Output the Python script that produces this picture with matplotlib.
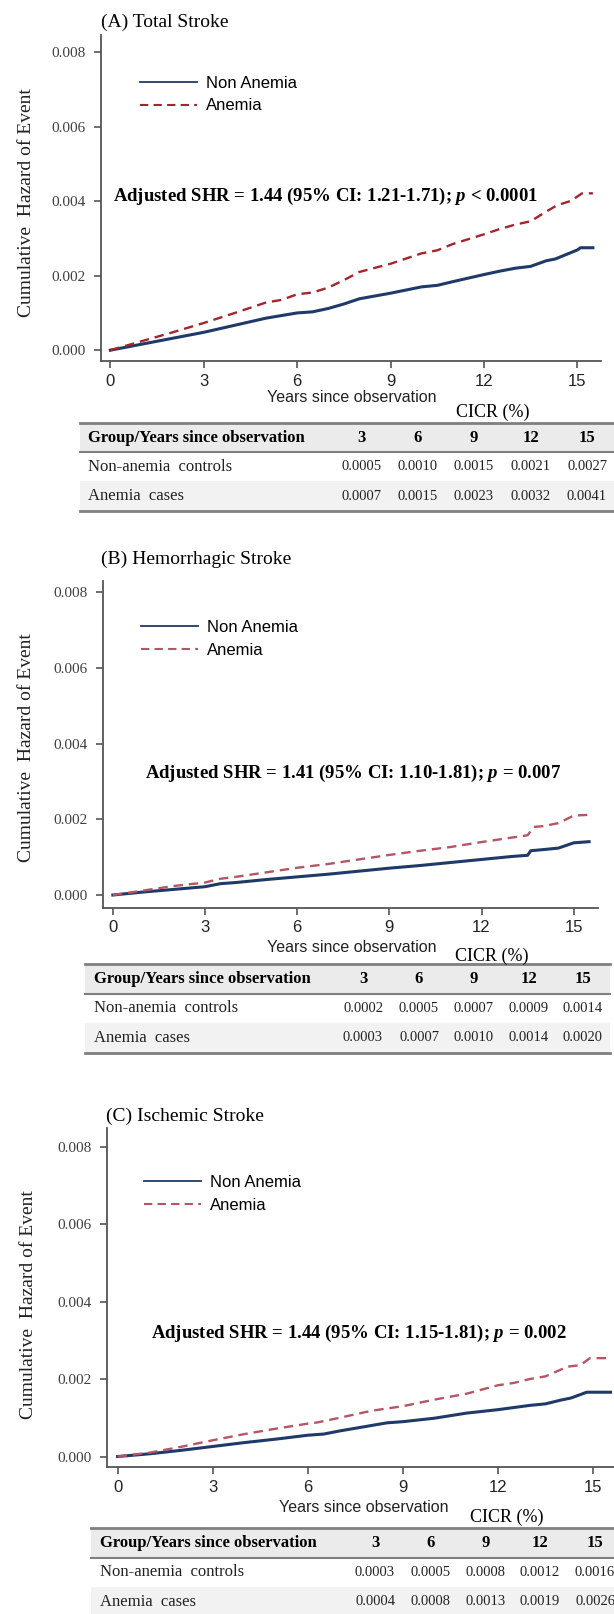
import matplotlib
matplotlib.use('Agg')
import matplotlib.pyplot as plt
from matplotlib import font_manager as fm
from matplotlib.lines import Line2D
from matplotlib.patches import Rectangle

W, H = 614, 1614

# ---- data ----
panel_titles = ['(A) Total Stroke', '(B) Hemorrhagic Stroke', '(C) Ischemic Stroke']
shr_texts = [r'Adjusted SHR = 1.44 (95% CI: 1.21-1.71); $p$ < 0.0001',
             r'Adjusted SHR = 1.41 (95% CI: 1.10-1.81); $p$ = 0.007',
             r'Adjusted SHR = 1.44 (95% CI: 1.15-1.81); $p$ = 0.002']
group_names = ['Non Anemia', 'Anemia']
xticks = [0, 3, 6, 9, 12, 15]
yticks = [0.000, 0.002, 0.004, 0.006, 0.008]

# (A) total stroke
a_t_non = [0, 0.5, 1, 2, 3, 4, 5, 6, 6.5, 7, 7.5, 8, 9, 10, 10.5, 11, 12, 12.5, 13, 13.5, 14, 14.3, 14.5,
           15, 15.1, 15.5]
a_non = [0, 0.00008, 0.00016, 0.00032, 0.00048, 0.00067, 0.00086, 0.00100, 0.00103, 0.00112, 0.00124,
         0.00138, 0.00153, 0.00170, 0.00174, 0.00184, 0.00203, 0.00212, 0.00220, 0.00225, 0.00240,
         0.00245, 0.00252, 0.00269, 0.00275, 0.00275]
a_t_an = [0, 0.5, 1, 2, 3, 4, 5, 5.5, 6, 6.5, 7, 7.5, 8, 9, 10, 10.5, 11, 12, 12.5, 13, 13.5, 14, 14.35,
          14.8, 15.15, 15.5]
a_an = [0, 0.00012, 0.00024, 0.00048, 0.00073, 0.00100, 0.00128, 0.00135, 0.00150, 0.00155, 0.00168,
        0.00188, 0.00210, 0.00232, 0.00260, 0.00268, 0.00285, 0.00311, 0.00325, 0.00337, 0.00346,
        0.00372, 0.00389, 0.00401, 0.00421, 0.00421]

# (B) hemorrhagic stroke
b_t_non = [0, 1, 2, 3, 3.5, 4, 5, 6, 7, 8, 9, 10, 11, 12, 13, 13.5, 13.6, 14, 14.5, 15, 15.5]
b_non = [0, 0.00008, 0.00015, 0.00022, 0.00030, 0.00033, 0.00041, 0.00048, 0.00055, 0.00063, 0.00071,
         0.00078, 0.00086, 0.00094, 0.00102, 0.00105, 0.00117, 0.00120, 0.00124, 0.00138, 0.00141]
b_t_an = [0, 1, 2, 3, 3.5, 4, 5, 6, 7, 8, 9, 10, 11, 12, 13, 13.5, 13.7, 14, 14.5, 15, 15.5]
b_an = [0, 0.00012, 0.00024, 0.00033, 0.00043, 0.00048, 0.00060, 0.00072, 0.00082, 0.00094, 0.00106,
        0.00117, 0.00127, 0.00140, 0.00152, 0.00158, 0.00180, 0.00182, 0.00190, 0.00210, 0.00212]

# (C) ischemic stroke
c_t_non = [0, 1, 2, 3, 4, 5, 6, 6.5, 7, 8, 8.5, 9, 10, 11, 12, 13, 13.5, 14, 14.3, 14.8, 15.55]
c_non = [0, 0.00007, 0.00016, 0.00026, 0.00036, 0.00045, 0.00055, 0.00058, 0.00066, 0.00080, 0.00087,
         0.00090, 0.00099, 0.00112, 0.00121, 0.00132, 0.00136, 0.00146, 0.00151, 0.00166, 0.00166]
c_t_an = [0, 1, 2, 3, 4, 5, 6, 6.3, 7, 8, 9, 10, 11, 12, 12.5, 13, 13.5, 14, 14.2, 14.6, 14.9, 15.55]
c_an = [0, 0.00010, 0.00025, 0.00042, 0.00058, 0.00072, 0.00085, 0.00088, 0.00100, 0.00118, 0.00130,
        0.00147, 0.00162, 0.00184, 0.00190, 0.00200, 0.00207, 0.00225, 0.00232, 0.00236, 0.00254, 0.00254]

# CICR tables
tab_header = 'Group/Years since observation'
tab_years = ['3', '6', '9', '12', '15']
tab_rows = ['Non-anemia  controls', 'Anemia  cases']
a_tab = [['0.0005', '0.0010', '0.0015', '0.0021', '0.0027'],
         ['0.0007', '0.0015', '0.0023', '0.0032', '0.0041']]
b_tab = [['0.0002', '0.0005', '0.0007', '0.0009', '0.0014'],
         ['0.0003', '0.0007', '0.0010', '0.0014', '0.0020']]
c_tab = [['0.0003', '0.0005', '0.0008', '0.0012', '0.0016'],
         ['0.0004', '0.0008', '0.0013', '0.0019', '0.0026']]

# ---- fonts ----
have = {f.name for f in fm.fontManager.ttflist}
NARROW = 'Liberation Sans Narrow' if 'Liberation Sans Narrow' in have else 'Liberation Sans'
NSIZE = 13 if NARROW == 'Liberation Sans Narrow' else 11.5
SERIF = 'Liberation Serif'
plt.rcParams['mathtext.fontset'] = 'custom'
plt.rcParams['mathtext.it'] = 'Liberation Serif:italic:bold'
plt.rcParams['mathtext.rm'] = 'Liberation Serif:bold'

BLUE = '#1f3a68'
DARK = '#404040'

fig = plt.figure(figsize=(W / 100, H / 100), dpi=100)
over = fig.add_axes([0, 0, 1, 1])
over.set_xlim(0, W)
over.set_ylim(H, 0)
over.axis('off')


def px_box(l, t, r, b):
    return [l / W, 1 - b / H, (r - l) / W, (b - t) / H]


def panel(box, xlim, ylim, t_non, v_non, t_an, v_an, red, title, title_xy, ylab_xy,
          leg_xy, shr, shr_xy, xlab_y, cicr_xy):
    ax = fig.add_axes(px_box(*box))
    ax.set_facecolor('none')
    ax.plot(t_non, v_non, color=BLUE, lw=2.2)
    ax.plot(t_an, v_an, color=red, lw=1.7, ls=(0, (4, 2.5)))
    ax.set_xlim(*xlim)
    ax.set_ylim(*ylim)
    ax.set_xticks(xticks)
    ax.set_yticks(yticks)
    ax.set_xticklabels([str(v) for v in xticks], family=NARROW, fontsize=NSIZE + 0.5, color='#222222')
    ax.set_yticklabels(['%.3f' % v for v in yticks], family=SERIF, fontsize=11, color=DARK)
    for s in ['top', 'right']:
        ax.spines[s].set_visible(False)
    for s in ['left', 'bottom']:
        ax.spines[s].set_color('#555555')
        ax.spines[s].set_linewidth(1.3)
    ax.tick_params(direction='out', length=5, width=1.2, color='#555555', pad=4)
    ax.tick_params(axis='y', pad=6)
    handles = [Line2D([], [], color=BLUE, lw=1.3),
               Line2D([], [], color=red, lw=1.5, ls=(0, (4, 2.5)))]
    ax.legend(handles, group_names, loc='upper left', bbox_to_anchor=(leg_xy[0] / W, 1 - leg_xy[1] / H),
              bbox_transform=fig.transFigure, frameon=False, handlelength=3.4, handletextpad=0.55,
              borderpad=0, borderaxespad=0, labelspacing=0.45,
              prop={'family': NARROW, 'size': NSIZE + 0.5})
    over.text(title_xy[0], title_xy[1], title, family=SERIF, fontsize=14, ha='left', va='center')
    over.text(ylab_xy[0], ylab_xy[1], 'Cumulative  Hazard of Event', family=SERIF, fontsize=14,
              rotation=90, ha='center', va='center', color='#222222')
    over.text(shr_xy[0], shr_xy[1], shr, family=SERIF, fontweight='bold', fontsize=13.5,
              ha='left', va='center')
    over.text(shr_xy[2], xlab_y, 'Years since observation', family=NARROW, fontsize=NSIZE,
              ha='center', va='center', color='#222222')
    over.text(cicr_xy[0], cicr_xy[1], 'CICR (%)', family=SERIF, fontsize=13, ha='center', va='center')
    return ax


def table(top, left, right, row_h, label_x, col_x, cells):
    over.add_patch(Rectangle((left, top), right - left, row_h, color='#ebebeb', lw=0))
    over.add_patch(Rectangle((left, top + 2 * row_h), right - left, row_h, color='#f2f2f2', lw=0))
    over.plot([left, right], [top, top], color='#7f7f7f', lw=2)
    over.plot([left, right], [top + row_h, top + row_h], color='#7f7f7f', lw=1.5)
    over.plot([left, right], [top + 3 * row_h, top + 3 * row_h], color='#7f7f7f', lw=2)
    yc = top + row_h / 2
    over.text(label_x, yc, tab_header, family=SERIF, fontweight='bold', fontsize=12, ha='left', va='center')
    for x, lab in zip(col_x, tab_years):
        over.text(x, yc, lab, family=SERIF, fontweight='bold', fontsize=12, ha='center', va='center')
    for i, row in enumerate(cells):
        yc = top + row_h * (i + 1.5)
        over.text(label_x, yc, tab_rows[i], family=SERIF, fontsize=12, ha='left', va='center',
                  color='#222222')
        for x, v in zip(col_x, row):
            over.text(x, yc, v, family=SERIF, fontsize=10.5, ha='center', va='center', color='#222222')


# panel A
panel((101, 35, 601, 361), (-0.30, 15.76), (-0.00029, 0.00846), a_t_non, a_non, a_t_an, a_an,
      '#a3262e', panel_titles[0], (101, 22), (27, 203), (140, 76), shr_texts[0], (113, 196, 352), 398,
      (493, 412))
table(423, 79.5, 614, 29.2, 88, [362, 418, 474, 530.5, 587], a_tab)

# panel B
panel((103, 581, 598, 907.7), (-0.32, 15.79), (-0.000335, 0.0083), b_t_non, b_non, b_t_an, b_an,
      '#b45664', panel_titles[1], (101, 559), (27, 748), (141, 620), shr_texts[1], (145, 773, 352), 948,
      (492, 956))
table(964, 85, 610, 29.5, 94, [363, 419, 474, 528.6, 582.6], b_tab)

# panel C
panel((106.5, 1128, 614, 1467), (-0.35, 15.66), (-0.00027, 0.00848), c_t_non, c_non, c_t_an, c_an,
      '#b45664', panel_titles[2], (105.7, 1116), (29, 1305), (144, 1175), shr_texts[2], (151, 1333, 364),
      1508, (507, 1517))
table(1528, 91, 614, 29.5, 100, [375, 430.7, 485.5, 540, 595], c_tab)

fig.savefig('out.png', dpi=100)
